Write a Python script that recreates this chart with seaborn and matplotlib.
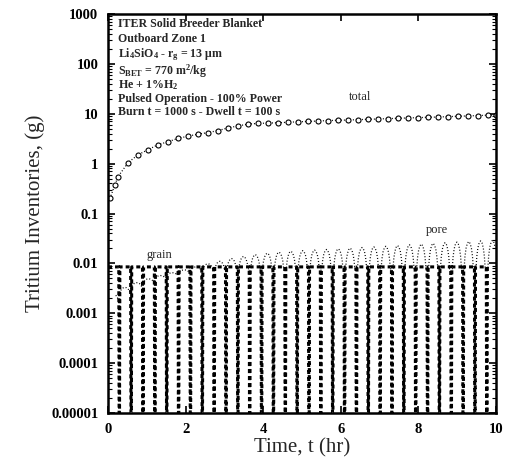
import numpy as np
import pandas as pd
import matplotlib
matplotlib.use("Agg")
import matplotlib.pyplot as plt
from matplotlib.ticker import FixedLocator, FixedFormatter, LogLocator, NullFormatter
import seaborn as sns

# operating schedule (from the annotation)
burn_s = 1000.0
dwell_s = 100.0
t_end_hr = 10.0

# grain inventory levels (g)
grain_burn = 0.0085
grain_dwell = 1e-5

# total inventory
total_t = [0.05, 0.18, 0.26, 0.52, 0.77, 1.03, 1.29, 1.55, 1.80, 2.06, 2.32, 2.58,
           2.84, 3.09, 3.35, 3.61, 3.87, 4.12, 4.38, 4.64, 4.90, 5.15, 5.41, 5.67,
           5.93, 6.19, 6.44, 6.70, 6.96, 7.22, 7.47, 7.73, 7.99, 8.25, 8.51, 8.76,
           9.02, 9.28, 9.54, 9.79, 10.0]
total_g = [0.2, 0.38, 0.55, 1.05, 1.5, 1.9, 2.4, 2.75, 3.2, 3.55, 3.9, 4.2,
           4.6, 5.2, 5.7, 6.2, 6.4, 6.5, 6.6, 6.75, 6.9, 7.0, 7.15, 7.3,
           7.4, 7.5, 7.6, 7.75, 7.85, 8.0, 8.1, 8.25, 8.35, 8.5, 8.6, 8.75,
           8.9, 9.05, 9.2, 9.35, 9.5]

# pore inventory: peak and trough of each burn cycle
pore_peak = [0.0024, 0.0033, 0.0041, 0.0049, 0.0057, 0.0065, 0.0074, 0.0085,
             0.0098, 0.011, 0.0125, 0.0138, 0.015, 0.016, 0.0168, 0.0175,
             0.018, 0.0185, 0.019, 0.0196, 0.0202, 0.0208, 0.0214, 0.022,
             0.0228, 0.0236, 0.0244, 0.0252, 0.026, 0.0267, 0.0274, 0.0282, 0.029]
pore_trough = [0.0020, 0.0027, 0.0035, 0.0043, 0.0051, 0.0059, 0.0067, 0.0075,
               0.0078, 0.0078, 0.0078, 0.0078, 0.0078, 0.0078, 0.0078, 0.0078,
               0.0078, 0.0078, 0.0078, 0.0078, 0.0078, 0.0078, 0.0078, 0.0078,
               0.0078, 0.0078, 0.0078, 0.0078, 0.0078, 0.0078, 0.0078, 0.0078, 0.0078]
# arch shape within a burn (fraction of burn, relative log height)
arch_frac = [0.04, 0.12, 0.22, 0.34, 0.47, 0.60, 0.72, 0.82, 0.90]
arch_rel = [0.0, 0.45, 0.75, 0.93, 1.0, 0.93, 0.75, 0.45, 0.0]

period_hr = (burn_s + dwell_s) / 3600.0
burn_hr = burn_s / 3600.0
dwell_hr = dwell_s / 3600.0
n_cyc = len(pore_peak)

# grain series
g_t, g_v = [0.0], [grain_burn]
for k in range(n_cyc):
    t0 = k * period_hr
    g_t += [t0 + burn_hr, t0 + burn_hr + 0.3 * dwell_hr, t0 + burn_hr + 0.7 * dwell_hr, t0 + period_hr]
    g_v += [grain_burn, grain_dwell, grain_dwell, grain_burn]
grain_df = pd.DataFrame({"t": g_t, "v": g_v})
grain_df = grain_df[grain_df.t <= t_end_hr + 0.01]

# pore series
p_t, p_v = [], []
for k in range(n_cyc):
    t0 = k * period_hr
    for f, r in zip(arch_frac, arch_rel):
        t = t0 + f * burn_hr
        if k == 0 and t < 0.2:
            continue
        p_t.append(t)
        p_v.append(pore_trough[k] * (pore_peak[k] / pore_trough[k]) ** r)
pore_df = pd.DataFrame({"t": p_t, "v": p_v})
pore_df = pore_df[pore_df.t <= t_end_hr]

total_df = pd.DataFrame({"t": total_t, "v": total_g})

sns.set_theme(style="ticks")
plt.rcParams["font.family"] = ["Liberation Serif", "DejaVu Serif"]
plt.rcParams["mathtext.default"] = "regular"

fig = plt.figure(figsize=(5.08, 4.65), dpi=100)
ax = fig.add_axes([108 / 508, 1 - 413 / 465, 388 / 508, 399 / 465])

sns.lineplot(data=grain_df, x="t", y="v", ax=ax, color="black", linewidth=2.2,
             linestyle=(0, (1.3, 1.0)), sort=False, estimator=None)
sns.lineplot(data=pore_df, x="t", y="v", ax=ax, color="black", linewidth=0.9,
             linestyle=(0, (0.8, 1.6)), sort=False, estimator=None)
sns.lineplot(data=total_df, x="t", y="v", ax=ax, color="black", linewidth=0.9,
             linestyle=(0, (0.8, 1.6)), marker="o", markersize=3.6,
             markerfacecolor="white", markeredgecolor="black", markeredgewidth=0.8,
             sort=False, estimator=None)

ax.set_yscale("log")
ax.set_xlim(0, 10)
ax.set_ylim(1e-5, 1000)

yt = [1e-5, 1e-4, 1e-3, 1e-2, 0.1, 1, 10, 100, 1000]
yl = ["0.00001", "0.0001", "0.001", "0.01", "0.1", "1", "10", "100", "1000"]
ax.yaxis.set_major_locator(FixedLocator(yt))
ax.yaxis.set_major_formatter(FixedFormatter(yl))
ax.yaxis.set_minor_locator(LogLocator(base=10, subs=np.arange(2, 10)))
ax.yaxis.set_minor_formatter(NullFormatter())
ax.set_xticks([0, 2, 4, 6, 8, 10])

ax.tick_params(which="both", direction="in", top=True, right=True, colors="black")
ax.tick_params(which="major", length=5, width=1.2, labelsize=10.5, pad=7)
ax.tick_params(which="minor", length=3, width=0.8)
for lab in ax.get_xticklabels() + ax.get_yticklabels():
    lab.set_fontweight("bold")
for s in ax.spines.values():
    s.set_linewidth(1.8)
    s.set_color("black")

ax.set_xlabel("Time, t (hr)", fontsize=15, labelpad=2)
ax.set_ylabel("Tritium Inventories, (g)", fontsize=15, labelpad=4)

info = ["ITER Solid Breeder Blanket",
        "Outboard Zone 1",
        r"Li$_4$SiO$_4$ - r$_g$ = 13 $\mu$m",
        r"S$_{BET}$ = 770 m$^2$/kg",
        r"He + 1%H$_2$",
        "Pulsed Operation - 100% Power",
        "Burn t = 1000 s - Dwell t = 100 s"]
info_y = [0.974, 0.937, 0.899, 0.857, 0.821, 0.787, 0.755]
for line, yy in zip(info, info_y):
    ax.text(0.026, yy, line, transform=ax.transAxes, fontsize=8.6,
            fontweight="bold", va="center", ha="left")

ax.text(0.62, 0.792, "total", transform=ax.transAxes, fontsize=9, va="center")
ax.text(0.82, 0.459, "pore", transform=ax.transAxes, fontsize=9, va="center")
ax.text(0.10, 0.396, "grain", transform=ax.transAxes, fontsize=9, va="center")

fig.savefig("out.png", dpi=100)
